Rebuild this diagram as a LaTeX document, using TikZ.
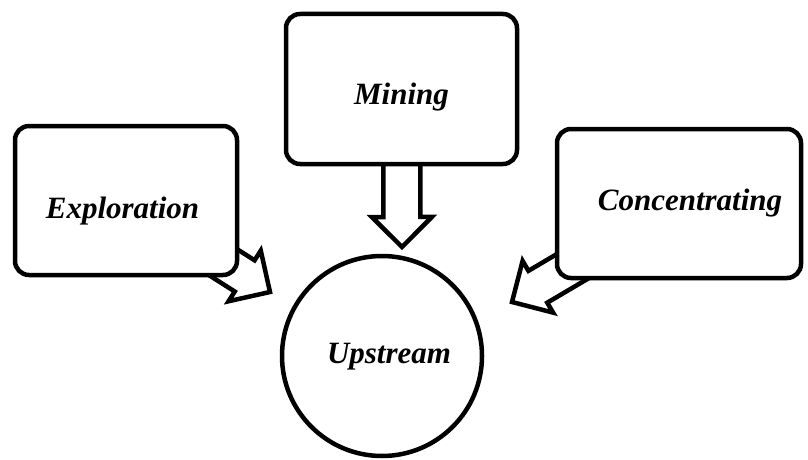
\documentclass[tikz,border=0pt]{standalone}
\usepackage{fontspec}
\setmainfont{Liberation Serif}
\usetikzlibrary{calc,backgrounds}
\tikzset{
  box/.style={draw, line width=4.5pt, rounded corners=14pt, fill=white, inner sep=0pt},
  roundnode/.style={draw, circle, line width=4.5pt, fill=white, inner sep=0pt},
  lbl/.style={font=\fontsize{31}{37}\selectfont\bfseries\itshape, anchor=base, inner sep=0pt},
  barrow/.style={draw, line width=4.5pt, line join=miter, fill=white},
}
% #1 start (inside a box), #2 tip, #3 name for head-base point
\newcommand\blockarr[3]{%
  \path ($(#2)!30pt!(#1)$) coordinate (#3);
  \draw[barrow] (#2)
    -- ($(#3)!30pt!90:(#2)$)
    -- ($(#3)!18.5pt!90:(#2)$)
    -- ($(#1)!18.5pt!90:(#2)$)
    -- ($(#1)!18.5pt!-90:(#2)$)
    -- ($(#3)!18.5pt!-90:(#2)$)
    -- ($(#3)!30pt!-90:(#2)$)
    -- cycle;
}
\begin{document}
\begin{tikzpicture}[x=1pt,y=1pt]
\useasboundingbox (0,0) rectangle (808,459);
\node[box, minimum width=222pt, minimum height=149pt] (exp) at (126,258.5) {};
\node[box, minimum width=231pt, minimum height=150pt] (mine) at (401.5,370) {};
\node[box, minimum width=244pt, minimum height=149pt] (conc) at (679,255.5) {};
\node[roundnode, minimum size=200pt] (up) at (382,103) {};
\node[lbl] (expt) at (122.5,241) {Exploration};
\node[lbl] (minet) at (401.5,355) {Mining};
\node[lbl] (conct) at (690,249) {Concentrating};
\node[lbl] (upt) at (389,96) {Upstream};
\coordinate (t1) at (270,167);
\coordinate (t2) at (402,212);
\coordinate (t3) at (512,157);
\begin{pgfonlayer}{background}
\blockarr{exp.center}{t1}{h1}
\blockarr{mine.center}{t2}{h2}
\blockarr{conc.center}{t3}{h3}
\end{pgfonlayer}
\end{tikzpicture}
\end{document}
